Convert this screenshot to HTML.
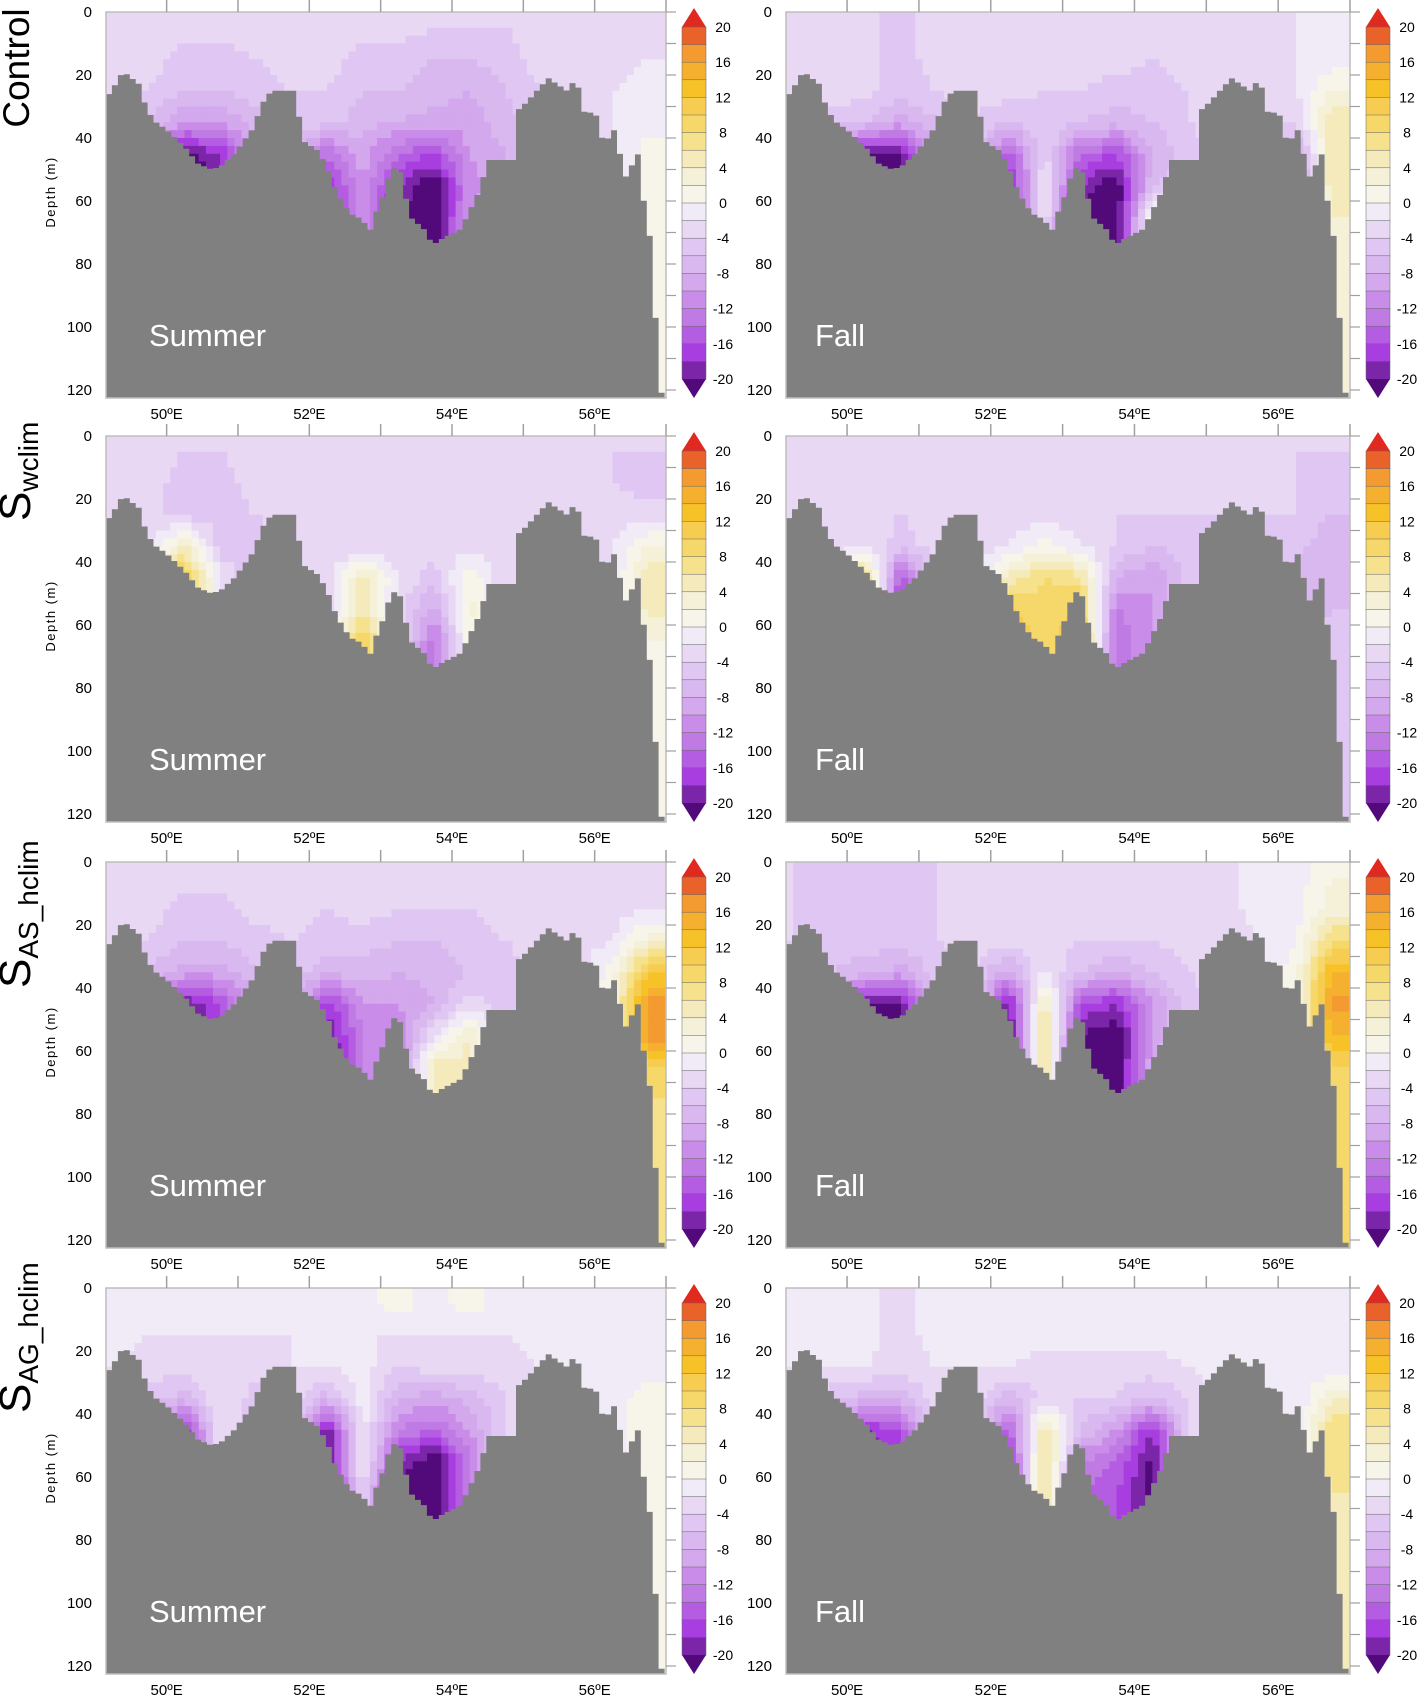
<!DOCTYPE html>
<html><head><meta charset="utf-8"><title>Salinity anomaly sections</title>
<style>
html,body{margin:0;padding:0;background:#fff;}
svg{display:block;font-family:"Liberation Sans",sans-serif;}
</style></head>
<body>
<svg id="fig" width="1417" height="1700" viewBox="0 0 1417 1700" xmlns="http://www.w3.org/2000/svg"></svg>
<script>
// ---- data ----
const lonCenters=[49.25,49.75,50.25,50.75,51.25,51.75,52.25,52.75,53.25,53.75,54.25,54.75,55.25,55.75,56.25,56.75];
const depthCenters=[5,15,25,35,45,55,65,75];
const bathyLon=[49.15,49.24,49.32,49.40,49.62,49.72,49.85,49.98,50.17,50.30,50.43,50.63,50.76,50.95,51.21,51.34,51.47,51.79,51.92,52.12,52.25,52.38,52.57,52.76,52.83,52.96,53.06,53.15,53.28,53.41,53.61,53.73,53.86,54.12,54.38,54.51,54.90,54.93,55.03,55.19,55.35,55.48,55.61,55.74,55.87,56.00,56.13,56.29,56.42,56.61,56.71,56.78,56.84,56.91,56.97,57.0];
const bathyDepth=[27,25,21,19,23,31,35,37,41,44,48,50,49,45,37,29,25,25,41,44,49,57,64,66,71,62,57,49,51,65,69,74,72,69,57,47,47,31,29,25,21,23,25,21,33,31,42,37,53,45,64,72,91,119,123,123];
const tickDepths=[0,20,40,60,80,100,120];
const tickLons=[50,52,54,56];
const cbLabels=[20,16,12,8,4,0,-4,-8,-12,-16,-20];
const levels=[-20,-18,-16,-14,-12,-10,-8,-6,-4,-2,0,2,4,6,8,10,12,14,16,18,20];

const controlSummer=[
[-3,-3,-3,-3,-3,-3,-3,-3,-3,-4,-4,-4,-3,-3,-3,-2],
[-3,-3,-5,-5,-4,-3,-3,-5,-5,-6,-6,-5,-3,-3,-3,-2],
[-3,-4,-6,-6,-5,-4,-4,-6,-6,-7,-8,-6,-4,-3,-2,-1],
[-4,-6,-10,-10,-7,-5,-5,-7,-8,-9,-9,-7,-4,-3,-2,-1],
[-5,-10,-21,-18,-10,-6,-14,-9,-14,-16,-10,-8,-5,-3,-2,1],
[-5,-10,-22,-20,-10,-6,-18,-10,-18,-22,-11,-8,-5,-3,-2,1],
[-5,-10,-22,-20,-10,-6,-18,-11,-20,-22,-10,-8,-5,-3,-2,1],
[-5,-10,-22,-20,-10,-6,-18,-11,-20,-22,-10,-8,-5,-3,-2,1]];
const controlFall=[
[-3,-3,-3,-5,-3,-3,-3,-3,-3,-3,-3,-3,-3,-3,-2,-1],
[-3,-3,-3,-5,-3,-3,-3,-3,-3,-3,-4,-3,-3,-3,-2,-1],
[-3,-3,-3,-5,-4,-3,-3,-4,-4,-5,-5,-4,-3,-3,-2,2],
[-4,-5,-6,-9,-6,-4,-6,-5,-6,-7,-6,-4,-3,-3,-4,6],
[-5,-10,-20,-20,-8,-5,-16,-3,-14,-16,-8,-5,-3,-4,-10,6],
[-5,-10,-22,-22,-8,-5,-19,-2,-18,-22,-6,-5,-3,-4,-12,6],
[-5,-10,-22,-22,-8,-5,-19,-2,-22,-22,3,-5,-3,-4,-12,4],
[-5,-10,-22,-22,-8,-5,-19,-2,-22,-22,3,-5,-3,-4,-12,4]];
const wclimSummer=[
[-3,-3,-4,-4,-3,-3,-3,-4,-4,-3,-4,-4,-4,-4,-4,-4],
[-3,-3,-5,-5,-3,-3,-4,-4,-4,-3,-4,-4,-4,-4,-4,-5],
[-3,-3,-5,-5,-4,-3,-4,-4,-4,-3,-4,-4,-4,-4,-3,-3],
[-3,-2,4,-5,-5,-3,-4,-4,-4,-3,-3,-4,-4,-3,-2,2],
[-3,1,12,-2,-6,-3,-3,5,-2,-5,2,-4,-4,-3,-2,6],
[-3,1,12,-2,-6,-3,-3,6,-3,-9,3,-4,-4,-3,-2,5],
[-3,1,12,-2,-6,-3,-3,11,-3,-13,2,-4,-4,-3,-2,2],
[-3,1,12,-2,-6,-3,-3,11,-3,-13,2,-4,-4,-3,-2,2]];
const wclimFall=[
[-3,-3,-3,-4,-3,-3,-3,-3,-3,-3,-3,-3,-3,-4,-4,-4],
[-3,-3,-3,-4,-3,-3,-3,-3,-3,-3,-3,-3,-3,-4,-4,-5],
[-3,-3,-3,-4,-3,-3,-3,-3,-3,-4,-4,-4,-4,-4,-4,-6],
[-3,-3,-2,-5,-3,-3,-2,1,-2,-4,-6,-5,-4,-4,-5,-8],
[-3,-3,9,-16,-3,-3,5,8,7,-8,-10,-5,-4,-4,-8,-8],
[-3,-3,9,-18,-3,-3,10,9,10,-12,-10,-5,-4,-4,-8,-6],
[-3,-3,9,-18,-3,-3,12,9,12,-14,-10,-5,-4,-4,-8,-5],
[-3,-3,9,-18,-3,-3,12,9,12,-14,-10,-5,-4,-4,-8,-5]];
const asSummer=[
[-3,-3,-3,-3,-3,-3,-3,-2,-3,-3,-3,-3,-3,-3,-3,-2],
[-3,-3,-5,-5,-3,-3,-4,-3,-4,-4,-4,-3,-3,-3,-3,-2],
[-3,-4,-6,-6,-5,-4,-5,-5,-6,-6,-5,-4,-3,-3,-2,3],
[-4,-6,-9,-9,-6,-5,-7,-7,-8,-7,-6,-5,-3,-3,1,12],
[-5,-9,-20,-16,-8,-6,-18,-10,-10,-8,-3,-5,-3,-3,2,17],
[-5,-9,-22,-16,-8,-6,-20,-12,-12,-2,4,-5,-3,-3,2,17],
[-5,-9,-22,-16,-8,-6,-22,-12,-12,5,5,-5,-3,-3,2,10],
[-5,-9,-22,-16,-8,-6,-22,-12,-12,5,5,-5,-3,-3,2,8]];
const asFall=[
[-4,-5,-5,-5,-4,-3,-3,-3,-3,-3,-3,-3,-3,-1,-1,2],
[-4,-5,-5,-5,-4,-3,-3,-3,-3,-3,-3,-3,-3,-1,-1,3],
[-4,-5,-5,-5,-4,-3,-3,-3,-4,-4,-4,-3,-3,-2,0,8],
[-5,-6,-7,-9,-5,-4,-9,-2,-6,-8,-6,-4,-3,-2,1,14],
[-5,-8,-20,-20,-6,-4,-20,6,-16,-18,-10,-5,-3,-2,1,17],
[-5,-8,-22,-22,-6,-4,-22,8,-20,-22,-10,-5,-3,-2,1,14],
[-5,-8,-22,-22,-6,-4,-22,8,-20,-22,-8,-5,-3,-2,1,10],
[-5,-8,-22,-22,-6,-4,-22,8,-20,-22,-8,-5,-3,-2,1,10]];
const agSummer=[
[-1,-1,-1,-1,-1,-1,-1,-1,1,-1,1,-1,-1,-1,-1,-1],
[-1,-2,-2,-2,-2,-2,-2,-2,-2,-2,-2,-2,-1,-1,-1,-1],
[-2,-3,-3,-2,-3,-2,-2,-1,-4,-3,-3,-3,-2,-2,-1,-1],
[-3,-5,-7,-2,-5,-3,-7,-1,-8,-9,-7,-4,-2,-2,-1,1],
[-3,-8,-18,-2,-6,-3,-20,-1,-12,-14,-10,-4,-2,-2,-1,2],
[-3,-8,-21,-2,-6,-3,-22,-1,-18,-22,-12,-4,-2,-2,-1,2],
[-3,-8,-21,-2,-6,-3,-22,-3,-22,-22,-12,-4,-2,-2,-1,1],
[-3,-8,-21,-2,-6,-3,-22,-3,-22,-22,-12,-4,-2,-2,-1,1]];
const agFall=[
[-1,-1,-1,-3,-1,-1,-1,-1,-1,-1,-1,-1,-1,-1,-1,-2],
[-1,-1,-1,-3,-1,-1,-1,-1,-1,-1,-1,-1,-1,-1,-1,-2],
[-2,-2,-2,-3,-2,-2,-2,-3,-3,-3,-3,-2,-1,-1,-1,-2],
[-3,-5,-7,-7,-3,-3,-7,-3,-4,-4,-6,-4,-1,-1,-2,4],
[-3,-8,-18,-16,-3,-3,-16,6,-6,-10,-18,-4,-1,-1,-2,8],
[-3,-8,-21,-18,-3,-3,-18,8,-12,-14,-21,-4,-1,-1,-2,8],
[-3,-8,-21,-18,-3,-3,-18,8,-14,-16,-21,-4,-1,-1,-2,6],
[-3,-8,-21,-18,-3,-3,-18,8,-14,-16,-21,-4,-1,-1,-2,6]];

// ---- styling ----
const bandColors=['#7b26a8','#a93ee0','#b55de2','#c07ae4','#c98ce8','#d3a8ec','#d9b8ef','#e0c6f2','#e8d8f3','#f0ebf6','#f7f5ea','#f5f0d8','#f5eabb','#f6e28c','#f6d86a','#f6cd50','#f6c228','#f6b030','#f39a30','#e8622a'];
const underColor='#520a7a', overColor='#e02a20';
const NS='http://www.w3.org/2000/svg';
const svg=document.getElementById('fig');
function mk(tag,attrs,parent){const e=document.createElementNS(NS,tag);for(const k in attrs)e.setAttribute(k,attrs[k]);(parent||svg).appendChild(e);return e;}
const LON0=49.15, LON1=57.0, PXM=3.15, PH=386;
function colorFor(v){if(v<levels[0])return underColor;if(v>=levels[levels.length-1])return overColor;return bandColors[Math.min(19,Math.floor((v-levels[0])/2))];}
function interp1(xs,ys,x){if(x<=xs[0])return ys[0];for(let i=1;i<xs.length;i++){if(x<=xs[i]){const t=(x-xs[i-1])/(xs[i]-xs[i-1]);return ys[i-1]+t*(ys[i]-ys[i-1]);}}return ys[ys.length-1];}
function bathy(lon){return interp1(bathyLon,bathyDepth,lon);}
function fieldAt(f,lon,d){
  let ci=(lon-lonCenters[0])/0.5; ci=Math.max(0,Math.min(lonCenters.length-1.0001,ci));
  let ri=(d-depthCenters[0])/10; ri=Math.max(0,Math.min(depthCenters.length-1.0001,ri));
  const c0=Math.floor(ci),r0=Math.floor(ri),tc=ci-c0,tr=ri-r0;
  const a=f[r0][c0]*(1-tc)+f[r0][c0+1]*tc, b=f[r0+1][c0]*(1-tc)+f[r0+1][c0+1]*tc;
  return a*(1-tr)+b*tr;
}

const panels=[
 {field:controlSummer,x0:106,w:560,y0:12,season:'Summer',col:0,key:'control-summer'},
 {field:controlFall,x0:786,w:564,y0:12,season:'Fall',col:1,key:'control-fall'},
 {field:wclimSummer,x0:106,w:560,y0:436,season:'Summer',col:0,key:'swclim-summer'},
 {field:wclimFall,x0:786,w:564,y0:436,season:'Fall',col:1,key:'swclim-fall'},
 {field:asSummer,x0:106,w:560,y0:862,season:'Summer',col:0,key:'sas-hclim-summer'},
 {field:asFall,x0:786,w:564,y0:862,season:'Fall',col:1,key:'sas-hclim-fall'},
 {field:agSummer,x0:106,w:560,y0:1288,season:'Summer',col:0,key:'sag-hclim-summer'},
 {field:agFall,x0:786,w:564,y0:1288,season:'Fall',col:1,key:'sag-hclim-fall'}];

panels.forEach((p,idx)=>{
  const xs=lon=>p.x0+(lon-LON0)/(LON1-LON0)*p.w;
  const ys=d=>p.y0+d*PXM;
  const g=mk('g',{});
  
  
  const cp=mk('clipPath',{id:'cp'+idx},g);
  mk('rect',{x:p.x0,y:p.y0,width:p.w,height:PH},cp);
  const plot=mk('g',{'clip-path':'url(#cp'+idx+')'},g);
  
  
  const dl=0.1, dd=2.5;
  for(let lon=LON0; lon<LON1; lon+=dl){
    const bmax=Math.max(bathy(lon),bathy(lon+dl));
    for(let d=0; d<bmax+dd && d<125; d+=dd){
      const v=fieldAt(p.field,lon+dl/2,d+dd/2);
      const r=mk('rect',{x:xs(lon).toFixed(1),y:ys(d).toFixed(1),width:(xs(lon+dl)-xs(lon)+0.6).toFixed(1),height:(dd*PXM+0.6).toFixed(1),fill:colorFor(v)},plot);
      
      
    }
  }
  let pts=[[xs(LON0),ys(130)]];
  const st=0.0833;
  for(let lon=LON0; lon<LON1+0.001; lon+=st){
    const d=bathy(lon+st/2);
    pts.push([xs(lon),ys(d)]); pts.push([xs(lon+st),ys(d)]);
  }
  pts.push([xs(LON1+0.1),ys(130)]);
  const land=mk('polygon',{points:pts.map(q=>q[0].toFixed(1)+','+q[1].toFixed(1)).join(' '),fill:'#808080'},plot);
  
  
  const fr=mk('rect',{x:p.x0,y:p.y0,width:p.w,height:PH,fill:'none',stroke:'#bdbdbd','stroke-width':1.5},g);
  
  
  for(let L=50;L<=57;L++){
    const t=mk('line',{x1:xs(L),x2:xs(L),y1:p.y0-12,y2:p.y0,stroke:'#a0a0a0','stroke-width':1.5},g);
    
    
  }
  for(let d=0;d<=120;d+=10){
    const t=mk('line',{x1:p.x0+p.w,x2:p.x0+p.w+10,y1:ys(d),y2:ys(d),stroke:'#a0a0a0','stroke-width':1.2},g);
    
    
  }
  tickDepths.forEach(d=>{
    const t=mk('text',{x:p.x0-14,y:ys(d)+5,'text-anchor':'end','font-size':15,fill:'#000'},g);
    t.textContent=d;
    
    
  });
  tickLons.forEach(L=>{
    const t=mk('text',{x:xs(L),y:p.y0+PH+21,'text-anchor':'middle','font-size':15,fill:'#000'},g);
    t.textContent=L+'ºE';
    
    
  });
  if(p.col===0){
    const t=mk('text',{transform:'translate(55,'+(p.y0+180)+') rotate(-90)','text-anchor':'middle','font-size':13,'letter-spacing':'1.5',fill:'#000'},g);
    t.textContent='Depth (m)';
    
    
  }
  const s=mk('text',{x:p.col===0?149:815,y:p.y0+334,'font-size':31,fill:'#ffffff'},g);
  s.textContent=p.season;
  
  
  const cbx=p.col===0?682:1366, cbw=24;
  const cb=mk('g',{},g);
  
  
  const top=p.y0+15, bh=17.6;
  const tri1=mk('polygon',{points:`${cbx},${top} ${cbx+cbw/2},${p.y0-4} ${cbx+cbw},${top}`,fill:overColor},cb);
  
  
  for(let i=0;i<20;i++){
    const v=levels[19-i];
    const r=mk('rect',{x:cbx,y:top+i*bh,width:cbw,height:bh+0.3,fill:colorFor(v+1),stroke:'#666','stroke-width':0.5},cb);
    
    
  }
  const tri2=mk('polygon',{points:`${cbx},${top+20*bh} ${cbx+cbw/2},${p.y0+386} ${cbx+cbw},${top+20*bh}`,fill:underColor},cb);
  
  
  cbLabels.forEach(v=>{
    const t=mk('text',{x:cbx+cbw+17,y:top+(20-v)/2*bh+5,'text-anchor':'middle','font-size':14,fill:'#000'},cb);
    t.textContent=v;
    
    
  });
});

function rowLabel(yStart, main, sub, name){
  const t=mk('text',{transform:'translate(30,'+yStart+') rotate(-90)','font-size':44,fill:'#000'});
  
  
  const a=mk('tspan',{},t); a.textContent=main;
  if(sub){const b=mk('tspan',{'font-size':28,dy:8},t); b.textContent=sub;}
}
(function(){
  const t=mk('text',{transform:'translate(29,68) rotate(-90)','text-anchor':'middle','font-size':37,fill:'#000'});
  t.textContent='Control';
  
  
})();
rowLabel(521,'S','wclim','row-label-swclim');
rowLabel(988,'S','AS_hclim','row-label-sas-hclim');
rowLabel(1413,'S','AG_hclim','row-label-sag-hclim');
</script>
</body></html>
